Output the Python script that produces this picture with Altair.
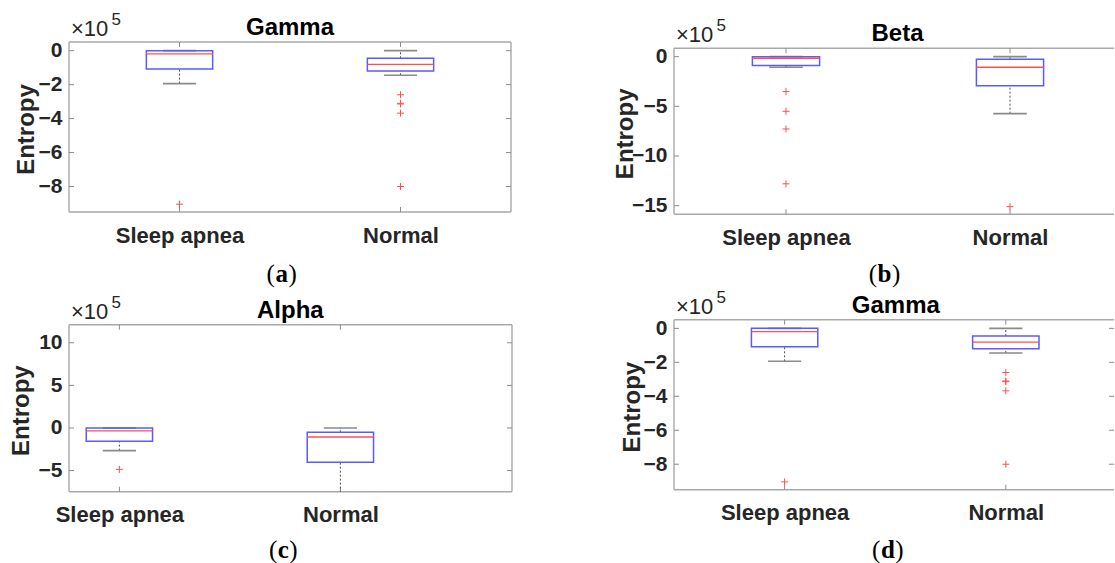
import altair as alt
import pandas as pd

GROUPS = ["Sleep apnea", "Normal"]
GROUP_POS = [1, 2]

# Gamma band entropy (units of 1e5)
gamma_low = [-1.94, -1.45]
gamma_q1 = [-1.08, -1.20]
gamma_median = [-0.19, -0.81]
gamma_q3 = [0.00, -0.45]
gamma_high = [0.00, 0.00]
gamma_out_apnea = [-9.04]
gamma_out_normal = [-2.60, -3.10, -3.14, -3.68, -8.00]
gamma_ticks = [0, -2, -4, -6, -8]
gamma_ylim = [-9.50, 0.51]

# Beta band entropy (units of 1e5)
beta_low = [-1.07, -5.74]
beta_q1 = [-0.90, -2.92]
beta_median = [-0.16, -1.07]
beta_q3 = [0.00, -0.27]
beta_high = [0.00, 0.00]
beta_out_apnea = [-3.52, -5.50, -7.28, -12.80]
beta_out_normal = [-15.10]
beta_ticks = [0, -5, -10, -15]
beta_ylim = [-15.87, 0.84]

# Alpha band entropy (units of 1e5)
alpha_low = [-2.66, -9.00]
alpha_q1 = [-1.57, -4.03]
alpha_median = [-0.35, -1.06]
alpha_q3 = [0.00, -0.51]
alpha_high = [0.00, 0.00]
alpha_out_apnea = [-4.86]
alpha_out_normal = []
alpha_ticks = [10, 5, 0, -5]
alpha_ylim = [-7.48, 12.12]

SANS = "Liberation Sans"
SERIF = "Liberation Serif"
INK = "#262626"
FRAME = "#a9a9a9"
TICK = "#8c8c8c"
BLUE = "#5a5aff"
RED = "#ff5050"
CAP = "#8a8a8a"
BOX_HALF = 0.15
CAP_HALF = 0.075


def one_row():
    return alt.Data(values=[{"k": 0}])


def panel(title, letter, low, q1, median, q3, high, out_apnea, out_normal,
          ticks, ylim, x_start, unit, width, height, shift, title_x,
          entropy_x, caption_x, caption_y, letter_w, right_border,
          right_ticks, anchor=False):
    H = height + shift
    span = ylim[1] - ylim[0]
    ydom = [ylim[0], ylim[1] + shift * span / height]
    xdom = [x_start, x_start + width / unit]
    xs = alt.Scale(domain=xdom, nice=False, zero=False)
    ys = alt.Scale(domain=ydom, nice=False, zero=False)

    label_expr = (f"datum.value == {GROUP_POS[0]} ? '{GROUPS[0]}' : "
                  f"'{GROUPS[1]}'")
    xaxis = alt.Axis(values=GROUP_POS, labelExpr=label_expr, title=None,
                     domain=False, ticks=False, grid=False, labelFont=SANS,
                     labelFontSize=22, labelFontWeight="bold",
                     labelColor=INK, labelPadding=13, labelFlush=False,
                     labelOverlap=False)
    yaxis = alt.Axis(values=ticks, title="Entropy", domain=False,
                     ticks=False, grid=False, labelFont=SANS,
                     labelFontSize=21, labelFontWeight="bold",
                     labelColor=INK, labelPadding=7, labelFlush=False,
                     labelOverlap=False, titleFont=SANS, titleFontSize=24,
                     titleFontWeight="bold", titleColor=INK, titleAngle=270,
                     titleAlign="center", titleBaseline="alphabetic",
                     titleX=entropy_x, titleY=shift + height / 2 + 2)

    def X(field):
        return alt.X(f"{field}:Q", scale=xs, axis=xaxis)

    def Y(field):
        return alt.Y(f"{field}:Q", scale=ys, axis=yaxis)

    stats = pd.DataFrame({"group": GROUPS, "pos": GROUP_POS, "low": low,
                          "q1": q1, "median": median, "q3": q3,
                          "high": high})
    stats["box_l"] = stats["pos"] - BOX_HALF
    stats["box_r"] = stats["pos"] + BOX_HALF
    stats["cap_l"] = stats["pos"] - CAP_HALF
    stats["cap_r"] = stats["pos"] + CAP_HALF
    outs = pd.DataFrame(
        [{"pos": GROUP_POS[0], "v": v} for v in out_apnea]
        + [{"pos": GROUP_POS[1], "v": v} for v in out_normal])
    tick_df = pd.DataFrame({"v": ticks})
    pos_df = pd.DataFrame({"pos": GROUP_POS})

    layers = []
    frame = alt.Chart(one_row()).mark_rule(color=FRAME, strokeWidth=1.4)
    layers.append(frame.encode(x=alt.value(0), x2=alt.value(width),
                               y=alt.value(shift)))
    layers.append(frame.encode(x=alt.value(0), x2=alt.value(width),
                               y=alt.value(H)))
    layers.append(frame.encode(x=alt.value(0), y=alt.value(shift),
                               y2=alt.value(H)))
    if right_border:
        layers.append(frame.encode(x=alt.value(width), y=alt.value(shift),
                                   y2=alt.value(H)))

    # inward tick marks
    tk = alt.Chart(tick_df).mark_rule(color=TICK, strokeWidth=1)
    layers.append(tk.encode(y=Y("v"), x=alt.value(0), x2=alt.value(5)))
    if right_ticks:
        layers.append(tk.encode(y=Y("v"), x=alt.value(width - 5),
                                x2=alt.value(width)))
    xt = alt.Chart(pos_df).mark_rule(color=TICK, strokeWidth=1)
    layers.append(xt.encode(x=X("pos"), y=alt.value(H - 5), y2=alt.value(H)))
    layers.append(xt.encode(x=X("pos"), y=alt.value(shift),
                            y2=alt.value(shift + 5)))

    base = alt.Chart(stats)
    whisk = base.mark_rule(color="#4d4d4d", strokeWidth=1,
                           strokeDash=[2, 2], clip=True)
    layers.append(whisk.encode(x=X("pos"), y=Y("low"), y2="q1"))
    layers.append(whisk.encode(x=X("pos"), y=Y("q3"), y2="high"))
    cap = base.mark_rule(color=CAP, strokeWidth=1.6, clip=True)
    layers.append(cap.encode(x=X("cap_l"), x2="cap_r", y=Y("low")))
    layers.append(cap.encode(x=X("cap_l"), x2="cap_r", y=Y("high")))
    layers.append(base.mark_rect(fill="white", fillOpacity=0, stroke=BLUE,
                                 strokeWidth=1.5)
                  .encode(x=X("box_l"), x2="box_r", y=Y("q1"), y2="q3"))
    layers.append(base.mark_rule(color=RED, strokeWidth=1.3)
                  .encode(x=X("box_l"), x2="box_r", y=Y("median")))
    layers.append(alt.Chart(outs).mark_point(
        shape="M-1,0L1,0M0,-1L0,1", size=49, filled=False, color=RED,
        strokeWidth=1, opacity=1).encode(x=X("pos"), y=Y("v")))

    # exponent note, panel title and caption
    txt = alt.Chart(one_row())
    layers.append(txt.mark_text(font=SANS, fontSize=22, color=INK,
                                align="left", baseline="alphabetic")
                  .encode(x=alt.value(2), y=alt.value(shift - 6),
                          text=alt.value("×10")))
    layers.append(txt.mark_text(font=SANS, fontSize=17, color=INK,
                                align="left", baseline="alphabetic")
                  .encode(x=alt.value(42.5), y=alt.value(shift - 17),
                          text=alt.value("5")))
    layers.append(txt.mark_text(font=SANS, fontSize=24, fontWeight="bold",
                                color="black", align="center",
                                baseline="alphabetic")
                  .encode(x=alt.value(title_x), y=alt.value(shift - 7),
                          text=alt.value(title)))
    cap_txt = dict(font=SERIF, fontSize=25, color="black",
                   baseline="alphabetic")
    layers.append(txt.mark_text(align="right", **cap_txt)
                  .encode(x=alt.value(caption_x - letter_w / 2 - 0.5),
                          y=alt.value(caption_y), text=alt.value("(")))
    layers.append(txt.mark_text(align="center", fontWeight="bold", **cap_txt)
                  .encode(x=alt.value(caption_x), y=alt.value(caption_y),
                          text=alt.value(letter)))
    layers.append(txt.mark_text(align="left", **cap_txt)
                  .encode(x=alt.value(caption_x + letter_w / 2 + 0.5),
                          y=alt.value(caption_y), text=alt.value(")")))
    if anchor:
        layers.append(txt.mark_rule(opacity=0, strokeWidth=0)
                      .encode(x=alt.value(-69), x2=alt.value(-69),
                              y=alt.value(-42), y2=alt.value(-42)))

    return alt.layer(*layers).properties(width=width, height=H)


pa = panel("Gamma", "a", gamma_low, gamma_q1, gamma_median, gamma_q3,
           gamma_high, gamma_out_apnea, gamma_out_normal, gamma_ticks,
           gamma_ylim, 0.5, 221, 442, 170, 0, 221, -35.7, 212.7, 240.4, 12.5,
           True, True, anchor=True)
pb = panel("Beta", "b", beta_low, beta_q1, beta_median, beta_q3, beta_high,
           beta_out_apnea, beta_out_normal, beta_ticks, beta_ylim,
           0.5, 224, 440, 166, 6.3, 223.5, -42, 210.5, 240.4, 13.9,
           False, False)
pc = panel("Alpha", "c", alpha_low, alpha_q1, alpha_median, alpha_q3,
           alpha_high, alpha_out_apnea, alpha_out_normal, alpha_ticks,
           alpha_ylim, 0.772, 221, 443, 167, 5, 221.3, -40.7, 214.3, 238.4,
           11.1, True, True)
pd_ = panel("Gamma", "d", gamma_low, gamma_q1, gamma_median, gamma_q3,
            gamma_high, gamma_out_apnea, gamma_out_normal, gamma_ticks,
            gamma_ylim, 0.5, 221.2, 440, 170, 0, 221.8, -35, 213.9, 238.4,
            13.9, False, True)

chart = alt.concat(
    pa, pb, pc, pd_, columns=2,
    spacing={"row": 104.7, "column": 162},
    bounds="flush", align="each",
).properties(
    padding={"left": 0, "top": 0, "right": 0, "bottom": 0},
    background="white",
).configure_view(strokeWidth=0)

chart.save("out.html", embed_options={"renderer": "svg", "actions": False})
